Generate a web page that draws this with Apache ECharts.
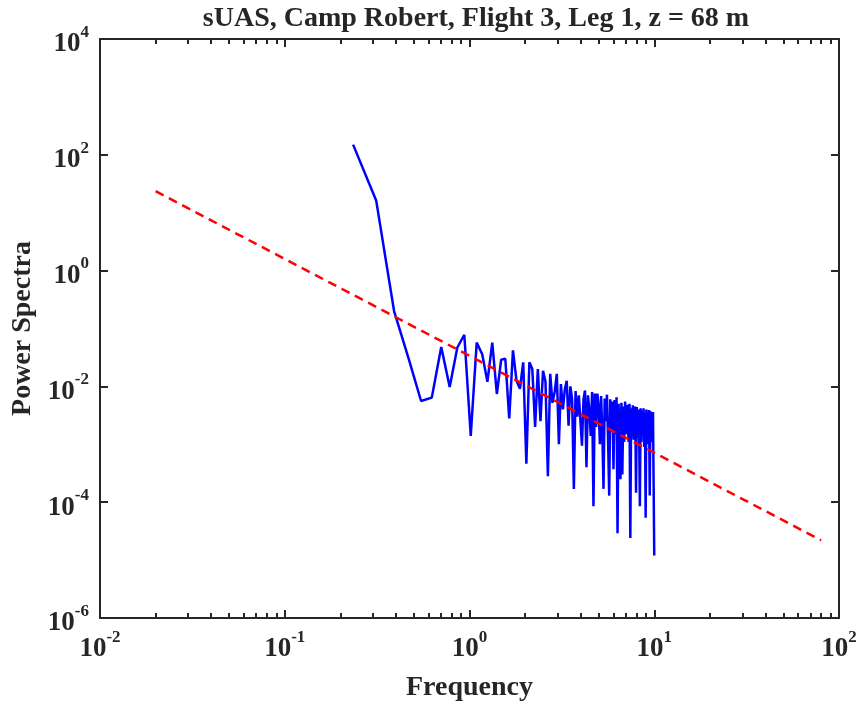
<!DOCTYPE html>
<html>
<head>
<meta charset="utf-8">
<script src="https://cdn.jsdelivr.net/npm/echarts@6/dist/echarts.min.js"></script>
<style>
html,body{margin:0;padding:0;background:#fff;}
#chart{width:862px;height:707px;}
</style>
</head>
<body>
<div id="chart"></div>
<script>
const titleText = 'sUAS, Camp Robert, Flight 3, Leg 1, z = 68 m';
const xName = 'Frequency';
const yName = 'Power Spectra';

// frequency bins (Hz)
const freq = [
0.2344,0.3125,0.3906,0.4688,0.5469,0.625,0.7031,0.7813,0.8594,0.9375,
1.0156,1.0938,1.1719,1.25,1.3281,1.4063,1.4844,1.5625,1.6406,1.7188,
1.7969,1.875,1.9531,2.0313,2.1094,2.1875,2.2656,2.3438,2.4219,2.5,
2.5781,2.6563,2.7344,2.8125,2.8906,2.9688,3.0469,3.125,3.2031,3.2813,
3.3594,3.4375,3.5156,3.5938,3.6719,3.75,3.8281,3.9063,3.9844,4.0625,
4.1406,4.2188,4.2969,4.375,4.4531,4.5313,4.6094,4.6875,4.7656,4.8438,
4.9219,5.0,5.0781,5.1563,5.2344,5.3125,5.3906,5.4688,5.5469,5.625,
5.7031,5.7813,5.8594,5.9375,6.0156,6.0938,6.1719,6.25,6.3281,6.4063,
6.4844,6.5625,6.6406,6.7188,6.7969,6.875,6.9531,7.0313,7.1094,7.1875,
7.2656,7.3438,7.4219,7.5,7.5781,7.6563,7.7344,7.8125,7.8906,7.9688,
8.0469,8.125,8.2031,8.2813,8.3594,8.4375,8.5156,8.5938,8.6719,8.75,
8.8281,8.9063,8.9844,9.0625,9.1406,9.2188,9.2969,9.375,9.4531,9.5313,
9.6094,9.6875,9.7656,9.8438,9.9219,10.0
];

// power spectral values
const power = [
150,16.3,0.2,0.03,0.0056,0.0064,0.048,0.0098,0.047,0.078,
0.0014,0.057,0.036,0.012,0.057,0.0074,0.029,0.030,0.0028,0.042,
0.0125,0.0091,0.026,0.00046,0.026,0.020,0.002,0.02,0.0025,0.0186,
0.012,0.00028,0.0165,0.0052,0.008,0.0165,0.001,0.011,0.004,0.009,
0.0125,0.0021,0.010,0.006,0.00017,0.0083,0.003,0.007,0.0065,0.00095,
0.006,0.0085,0.0004,0.007,0.004,0.0014,0.008,0.000085,0.0075,0.002,
0.0075,0.0045,0.001,0.0068,0.0016,0.00017,0.0062,0.0025,0.0072,0.0012,
0.00013,0.006,0.0018,0.0055,0.00037,0.0058,0.0015,0.0065,0.000029,0.005,
0.0021,0.00025,0.0052,0.0003,0.0045,0.0011,0.0055,0.0015,0.0048,0.0024,
0.0011,0.005,0.000024,0.0042,0.0016,0.0047,0.0012,0.0038,0.0045,0.000145,
0.0044,0.0013,0.004,0.0019,0.000085,0.0042,0.0011,0.0038,0.0017,0.0042,
0.0009,0.0035,0.000054,0.004,0.0014,0.0036,0.001,0.0039,0.00013,0.0037,
0.0016,0.0034,0.0011,0.0036,0.0035,0.000012
];

// -5/3 reference line end points
const refFreq = [0.02, 80];
const refPower = [23.5, 2.2e-5];

const xMin = 0.01, xMax = 100, xStep = 1;
const yMin = 1e-6, yMax = 1e4, yStep = 2;

const axisColor = '#262626';
const fontFam = '"Liberation Serif", "Times New Roman", serif';

function powLabel(v) {
  const e = Math.round(Math.log10(v));
  return '{b|10}{s|' + e + '}';
}
const richLbl = {
  b: {fontSize: 27, fontWeight: 'bold', fontFamily: fontFam, color: axisColor, lineHeight: 34, verticalAlign: 'bottom'},
  s: {fontSize: 17, fontWeight: 'bold', fontFamily: fontFam, color: axisColor, lineHeight: 34, verticalAlign: 'top'}
};

const chart = echarts.init(document.getElementById('chart'), null, {renderer: 'canvas'});

const commonLine = {show: true, lineStyle: {color: axisColor, width: 2}};
const tickStyle = {show: true, inside: true, length: 8, lineStyle: {color: axisColor, width: 2}};
const minorStyle = {show: true, splitNumber: 9, length: 5, lineStyle: {color: axisColor, width: 2}};
const nameStyle = {fontFamily: fontFam, fontWeight: 'bold', fontSize: 28, color: axisColor};

const option = {
  animation: false,
  backgroundColor: '#ffffff',
  title: {
    text: titleText,
    left: 471,
    textAlign: 'center',
    top: 0,
    textStyle: {fontFamily: fontFam, fontWeight: 'bold', fontSize: 28, color: axisColor}
  },
  grid: {left: 100, right: 23, top: 39, bottom: 88, containLabel: false},
  xAxis: [
    {
      type: 'log', logBase: 10, min: xMin, max: xMax, interval: xStep, position: 'bottom',
      name: xName, nameLocation: 'middle', nameGap: 56,
      nameTextStyle: nameStyle,
      axisLine: commonLine, axisTick: tickStyle, minorTick: minorStyle,
      axisLabel: {show: true, margin: 11, formatter: powLabel, rich: richLbl},
      splitLine: {show: false}, minorSplitLine: {show: false}
    },
    {
      type: 'log', logBase: 10, min: xMin, max: xMax, interval: xStep, position: 'top',
      axisLine: commonLine, axisTick: tickStyle, minorTick: minorStyle,
      axisLabel: {show: false},
      splitLine: {show: false}
    }
  ],
  yAxis: [
    {
      type: 'log', logBase: 10, min: yMin, max: yMax, interval: yStep, position: 'left',
      name: yName, nameLocation: 'middle', nameGap: 58,
      nameTextStyle: nameStyle,
      axisLine: commonLine, axisTick: tickStyle,
      axisLabel: {show: true, margin: 11, formatter: powLabel, rich: richLbl, padding: [4, 0, 0, 0]},
      splitLine: {show: false}
    },
    {
      type: 'log', logBase: 10, min: yMin, max: yMax, interval: yStep, position: 'right',
      axisLine: commonLine, axisTick: tickStyle,
      axisLabel: {show: false},
      splitLine: {show: false}
    }
  ],
  series: [
    {
      type: 'line', xAxisIndex: 0, yAxisIndex: 0,
      data: freq.map((f, i) => [f, power[i]]),
      showSymbol: false, symbol: 'none',
      lineStyle: {color: '#0000ff', width: 2.5},
      z: 3
    },
    {
      type: 'line', xAxisIndex: 0, yAxisIndex: 0,
      data: refFreq.map((f, i) => [f, refPower[i]]),
      showSymbol: false, symbol: 'none',
      lineStyle: {color: '#ff0000', width: 2.5, type: [9, 6]},
      z: 4
    }
  ]
};
chart.setOption(option);
</script>
</body>
</html>
